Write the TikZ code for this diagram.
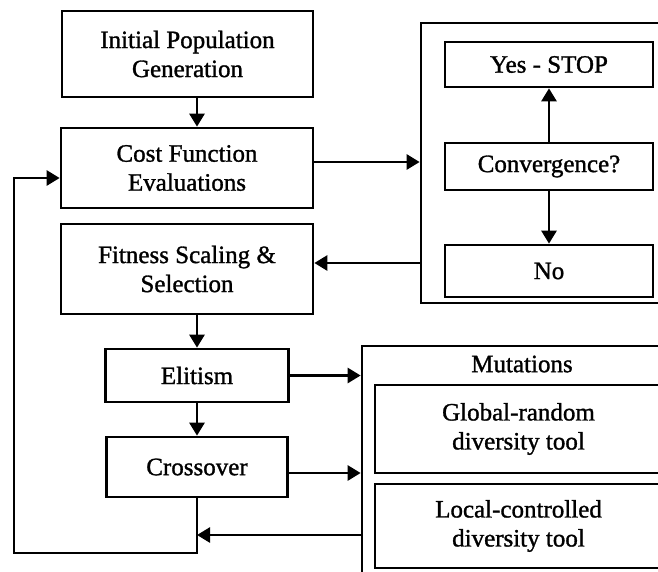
\documentclass[tikz,border=0pt]{standalone}
\usepackage{fontspec}
\setmainfont{Liberation Serif}[FakeBold=1.2]
\usetikzlibrary{arrows.meta}
\begin{document}
\begin{tikzpicture}[x=1pt,y=-1pt,
    box/.style={draw,line width=2.7pt,align=center,inner sep=0pt,
        font=\fontsize{25}{29}\selectfont},
    frame/.style={draw,line width=2.7pt,inner sep=0pt},
    arr/.style={line width=2.7pt,-{Triangle[length=13pt,width=15pt]}}]
    \useasboundingbox (0,0) rectangle (658,571);
    \clip (0,0) rectangle (658,571);
    % left column
    \node[box,minimum width=251pt,minimum height=86pt] (init) at (187.5,54) {Initial Population\\Generation};
    \node[box,minimum width=252pt,minimum height=80pt] (cost) at (187,168) {Cost Function\\Evaluations};
    \node[box,minimum width=252pt,minimum height=90pt] (fit) at (187,269) {Fitness Scaling \&\\Selection};
    \node[box,minimum width=183pt,minimum height=53pt] (elit) at (197,375.5) {Elitism};
    \node[box,minimum width=181pt,minimum height=60pt] (cross) at (197,467) {Crossover};
    % convergence test
    \node[frame,minimum width=259pt,minimum height=280pt] (convbox) at (550.5,163) {};
    \node[box,minimum width=208pt,minimum height=45pt] (yes) at (549,64.5) {Yes - STOP};
    \node[box,minimum width=208pt,minimum height=47pt] (conv) at (549,166.5) {Convergence?};
    \node[box,minimum width=208pt,minimum height=52pt] (no) at (549,271) {No};
    % mutations
    \node[frame,minimum width=313pt,minimum height=244pt] (mutbox) at (518.5,468) {};
    \node[font=\fontsize{25}{29}\selectfont] (mutlabel) at (522,364) {Mutations};
    \node[box,minimum width=287pt,minimum height=88pt] (glob) at (518.5,429) {Global-random\\diversity tool};
    \node[box,minimum width=287pt,minimum height=84pt] (loc) at (518.5,526) {Local-controlled\\diversity tool};
    % connectors
    \coordinate (loopbot) at (197,553);
    \coordinate (loopleft) at (14,553);
    \coordinate (retin) at (0,535);
    \draw[arr] (init.south -| elit.north) -- (cost.north -| elit.north);
    \draw[arr] ([yshift=6pt]cost.east) -- ([yshift=6pt]cost.east -| convbox.west);
    \draw[arr] (conv.north) -- (yes.south);
    \draw[arr] (conv.south) -- (no.north);
    \draw[arr] ([yshift=6pt]convbox.west |- fit.east) -- ([yshift=6pt]fit.east);
    \draw[arr] (fit.south -| elit.north) -- (elit.north);
    \draw[arr] (elit.south) -- (cross.north);
    \draw[arr] (elit.east) -- (elit.east -| mutbox.west);
    \draw[arr] ([yshift=-6pt]cross.east) -- ([yshift=-6pt]cross.east -| mutbox.west);
    \draw[arr] (mutbox.west |- retin) -- (loopbot |- retin);
    \draw[arr] (cross.south) -- (loopbot) -- (loopleft) |- ([yshift=-10pt]cost.west);
\end{tikzpicture}
\end{document}
